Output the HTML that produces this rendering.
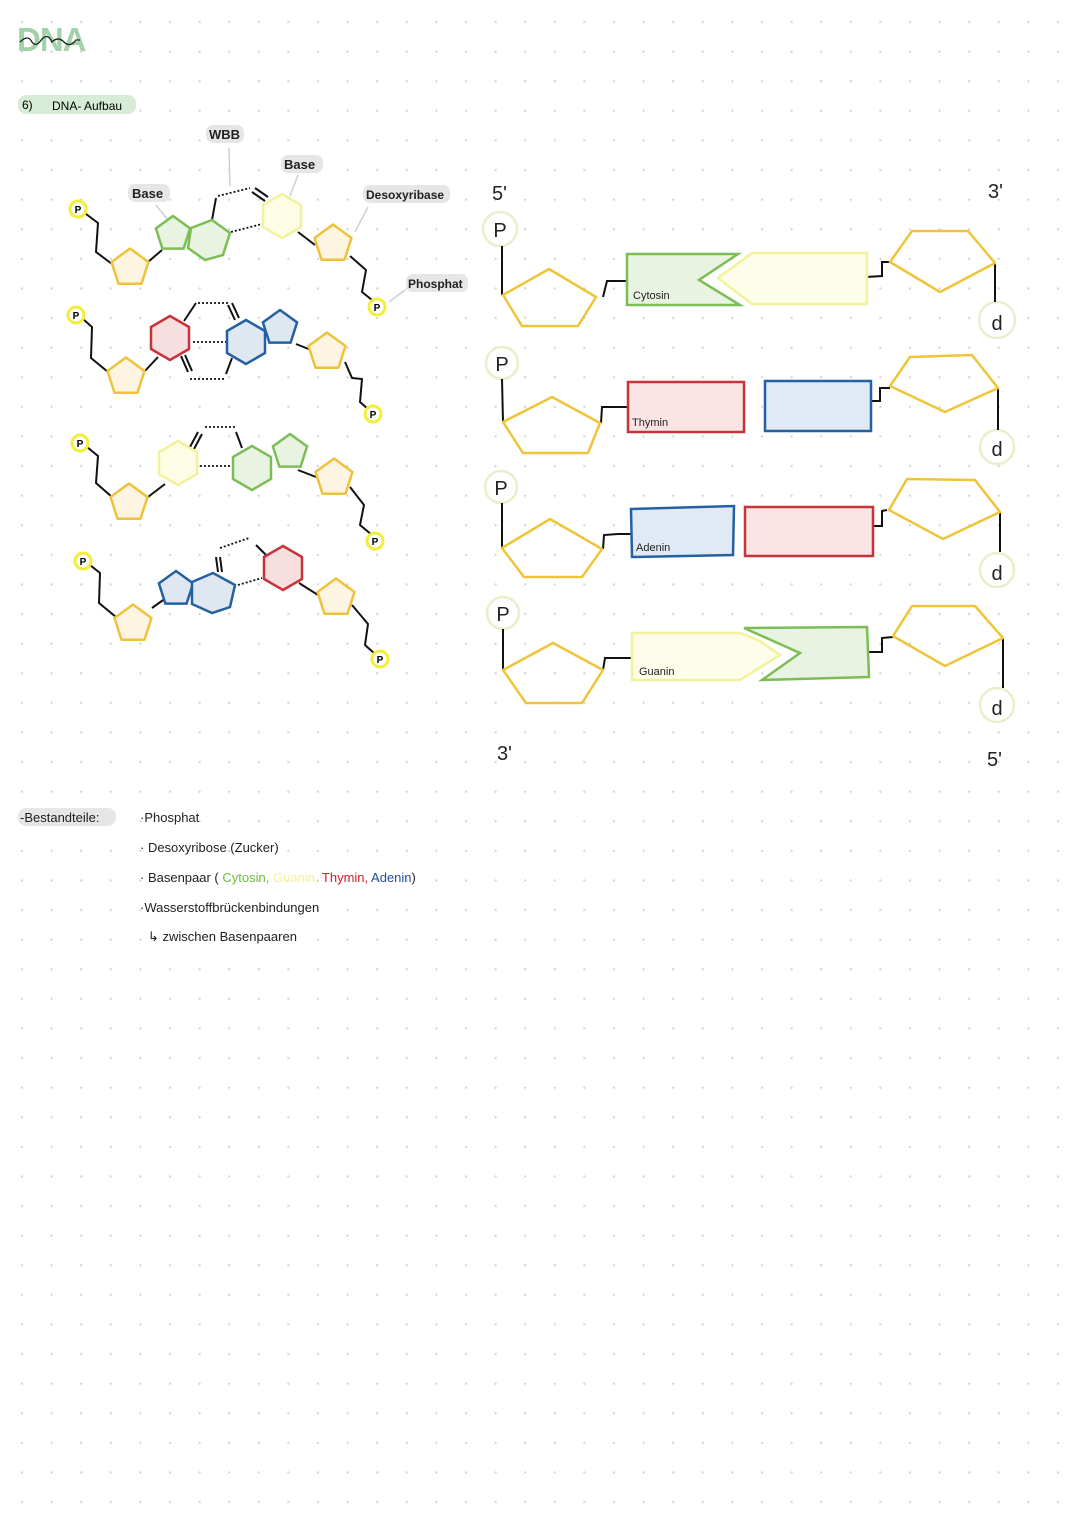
<!DOCTYPE html>
<html><head><meta charset="utf-8"><style>
html,body{margin:0;padding:0;background:#fff;}
svg{display:block;}
text{font-family:"Liberation Sans",sans-serif;}
</style></head><body>
<svg width="1080" height="1525" viewBox="0 0 1080 1525" xmlns="http://www.w3.org/2000/svg">
<defs>
<pattern id="g" x="7" y="7" width="29.6" height="29.6" patternUnits="userSpaceOnUse">
<circle cx="15" cy="15" r="1.1" fill="#cfcfcf"/></pattern>
<polygon id="sug" points="0,-19.5 18.5,-6 11.5,15.8 -11.5,15.8 -18.5,-6" fill="#fdf4e2" stroke="#efc23c" stroke-width="2.5" stroke-linejoin="round"/>
<polygon id="hexr" points="0,-22 19,-11 19,11 0,22 -19,11 -19,-11" fill="#f7dfe0" stroke="#c8333a" stroke-width="2.5"/>
<polygon id="hexb" points="0,-22 19,-11 19,11 0,22 -19,11 -19,-11" fill="#dfe7f1" stroke="#2560a3" stroke-width="2.5"/>
<polygon id="hexg" points="0,-22 19,-11 19,11 0,22 -19,11 -19,-11" fill="#e9f3e2" stroke="#7dbd55" stroke-width="2.5"/>
<polygon id="hexy" points="0,-22 19,-11 19,11 0,22 -19,11 -19,-11" fill="#fdfde6" stroke="#f2f29c" stroke-width="2.5"/>
<polygon id="penb" points="0,-18 17.1,-5.6 10.6,14.6 -10.6,14.6 -17.1,-5.6" fill="#dfe7f1" stroke="#2560a3" stroke-width="2.5"/>
<polygon id="peng" points="0,-18 17.1,-5.6 10.6,14.6 -10.6,14.6 -17.1,-5.6" fill="#e9f3e2" stroke="#7dbd55" stroke-width="2.5"/>
<g id="pl"><circle r="8" fill="#fff" stroke="#f2ee3a" stroke-width="3"/><text x="0" y="4" font-size="10" font-weight="bold" text-anchor="middle">P</text></g>
</defs>
<rect width="1080" height="1525" fill="url(#g)"/>

<!-- title -->
<text x="17" y="51" font-size="33" font-weight="bold" fill="#92cb9c" opacity="0.85" letter-spacing="-1">DNA</text>
<path d="M20 42 q8 -8 12 0 q4 6 10 -3 q6 -6 10 3 q6 -6 12 0 q6 6 12 -2 l4 0" stroke="#222" stroke-width="1.3" fill="none"/>
<rect x="18" y="95" width="118" height="19" rx="8" fill="#d7ecd7"/>
<text x="22" y="109" font-size="12">6)</text>
<text x="52" y="110" font-size="12">DNA- Aufbau</text>

<!-- left labels -->
<g font-size="13" font-weight="bold" fill="#222">
<rect x="128" y="184" width="42" height="18" rx="7" fill="#e6e6e6"/><text x="132" y="198">Base</text>
<rect x="206" y="125" width="38" height="18" rx="7" fill="#e6e6e6"/><text x="209" y="139">WBB</text>
<rect x="281" y="155" width="42" height="18" rx="7" fill="#e6e6e6"/><text x="284" y="169">Base</text>
<rect x="363" y="185" width="87" height="18" rx="7" fill="#e6e6e6"/><text x="366" y="199" font-size="12">Desoxyribase</text>
<rect x="406" y="274" width="62" height="18" rx="7" fill="#e6e6e6"/><text x="408" y="288" font-size="12">Phosphat</text>
</g>
<g stroke="#cfcfcf" stroke-width="1.5">
<line x1="156" y1="205" x2="168" y2="220"/><line x1="229" y1="148" x2="230" y2="186"/>
<line x1="298" y1="175" x2="290" y2="196"/><line x1="368" y1="207" x2="355" y2="232"/>
<line x1="405" y1="290" x2="389" y2="302"/>
</g>

<g stroke="#111" stroke-width="2" fill="none" stroke-linejoin="round">
<polyline points="86,214 98,223 96,252 112,264"/>
<polyline points="148,262 162,250"/>
<polyline points="212,220 216,198"/>
<polyline points="298,232 315,245"/>
<polyline points="350,256 366,270 362,292 372,300"/>
<line x1="252" y1="192" x2="265" y2="201"/><line x1="255" y1="188" x2="268" y2="197"/>
<polyline points="83,319 92,327 91,358 108,372"/>
<polyline points="144,372 158,357"/>
<polyline points="184,321 196,303"/>
<polyline points="232,358 226,374"/>
<polyline points="296,344 311,350"/>
<polyline points="345,362 352,378 362,379 360,402 368,409"/>
<line x1="181" y1="356" x2="188" y2="372"/><line x1="185" y1="355" x2="192" y2="371"/>
<line x1="228" y1="305" x2="235" y2="320"/><line x1="232" y1="303" x2="239" y2="318"/>
<polyline points="87,447 98,456 96,483 112,497"/>
<polyline points="148,497 165,484"/>
<polyline points="236,432 242,448"/>
<polyline points="298,470 316,477"/>
<polyline points="350,487 364,505 360,525 372,535"/>
<line x1="190" y1="447" x2="198" y2="432"/><line x1="194" y1="449" x2="202" y2="434"/>
<polyline points="90,565 100,573 99,603 116,617"/>
<polyline points="152,608 166,598"/>
<polyline points="256,545 266,555"/>
<polyline points="299,583 318,595"/>
<polyline points="352,605 368,624 365,645 375,654"/>
<line x1="216" y1="557" x2="218" y2="572"/><line x1="220" y1="557" x2="222" y2="572"/>
</g>
<g stroke="#111" stroke-width="1.8" stroke-dasharray="2,2" fill="none">
<line x1="218" y1="196" x2="250" y2="188"/><line x1="231" y1="232" x2="262" y2="224"/>
<line x1="198" y1="303" x2="228" y2="303"/><line x1="193" y1="342" x2="226" y2="342"/><line x1="190" y1="379" x2="224" y2="379"/>
<line x1="205" y1="427" x2="237" y2="427"/><line x1="200" y1="466" x2="231" y2="466"/>
<line x1="220" y1="548" x2="249" y2="538"/><line x1="238" y1="585" x2="262" y2="578"/>
</g>

<use href="#sug" x="130" y="268"/>
<use href="#peng" x="173" y="234"/>
<polygon points="191,228 212,220 230,233 223,255 205,260 188,248" fill="#e9f3e2" stroke="#7dbd55" stroke-width="2.5"/>
<use href="#hexy" x="282" y="216"/>
<use href="#sug" x="333" y="244"/>
<use href="#pl" x="78" y="209"/><use href="#pl" x="377" y="307"/>
<use href="#sug" x="126" y="377"/>
<use href="#hexr" x="170" y="338"/>
<use href="#hexb" x="246" y="342"/>
<use href="#penb" x="280" y="328"/>
<use href="#sug" x="327" y="352"/>
<use href="#pl" x="76" y="315"/><use href="#pl" x="373" y="414"/>
<use href="#sug" x="129" y="503"/>
<use href="#hexy" x="178" y="463"/>
<use href="#hexg" x="252" y="468"/>
<use href="#peng" x="290" y="452"/>
<use href="#sug" x="334" y="478"/>
<use href="#pl" x="80" y="443"/><use href="#pl" x="375" y="541"/>
<use href="#sug" x="133" y="624"/>
<use href="#penb" x="176" y="589"/>
<polygon points="192,582 213,573 235,585 230,607 212,613 192,604" fill="#dfe7f1" stroke="#2560a3" stroke-width="2.5"/>
<use href="#hexr" x="283" y="568"/>
<use href="#sug" x="336" y="598"/>
<use href="#pl" x="83" y="561"/><use href="#pl" x="380" y="659"/>

<!-- right diagram -->
<g font-size="20" fill="#222">
<text x="492" y="200">5'</text><text x="988" y="198">3'</text>
<text x="497" y="760">3'</text><text x="987" y="766">5'</text>
</g>
<g fill="#fff" stroke="#e6f0cc" stroke-width="2.5">
<circle cx="500" cy="229" r="17"/><circle cx="502" cy="363" r="16"/><circle cx="501" cy="487" r="16"/><circle cx="503" cy="613" r="16"/>
<circle cx="997" cy="320" r="18"/><circle cx="997" cy="447" r="17"/><circle cx="997" cy="570" r="17"/><circle cx="997" cy="705" r="17"/>
</g>
<g font-size="20" fill="#222" text-anchor="middle">
<text x="500" y="237">P</text><text x="502" y="371">P</text><text x="501" y="495">P</text><text x="503" y="621">P</text>
<text x="997" y="330">d</text><text x="997" y="456">d</text><text x="997" y="580">d</text><text x="997" y="715">d</text>
</g>
<g stroke="#111" stroke-width="2" fill="none">
<polyline points="502,246 502,295"/><polyline points="603,297 607,281 627,281"/>
<polyline points="866,277 882,276 882,262 890,262"/><polyline points="995,264 995,302"/>
<polyline points="502,379 503,422"/><polyline points="601,423 602,407 619,407 628,407"/>
<polyline points="871,401 880,401 880,388 890,388"/><polyline points="998,389 998,430"/>
<polyline points="502,503 502,548"/><polyline points="603,549 604,535 618,534 631,534"/>
<polyline points="873,526 882,526 882,511 887,510"/><polyline points="1000,512 1000,552"/>
<polyline points="503,629 503,670"/><polyline points="603,670 605,658 622,658 632,658"/>
<polyline points="868,652 882,652 882,638 893,637"/><polyline points="1003,639 1003,688"/>
</g>
<g fill="none" stroke="#f0c43a" stroke-width="2.5" stroke-linejoin="round">
<polygon points="503,295 549,269 596,297 578,326 522,326"/>
<polygon points="890,262 912,231 968,231 995,263 940,292"/>
<polygon points="503,422 552,397 600,423 588,453 523,453"/>
<polygon points="890,386 910,357 972,355 998,388 945,412"/>
<polygon points="502,548 550,519 602,549 582,577 524,577"/>
<polygon points="889,510 907,479 975,480 1000,512 943,539"/>
<polygon points="503,670 553,643 603,670 582,703 526,703"/>
<polygon points="893,636 912,606 975,606 1003,638 945,666"/>
</g>
<polygon points="627,254 738,254 699,280 740,305 627,305" fill="#e9f3e2" stroke="#7dbd55" stroke-width="2.5"/>
<polygon points="718,278 752,253 867,253 867,304 752,304" fill="#fdfde9" stroke="#f2f29c" stroke-width="2.5"/>
<rect x="628" y="382" width="116" height="50" fill="#fae4e4" stroke="#c8333a" stroke-width="2.5"/>
<rect x="765" y="381" width="106" height="50" fill="#e1e9f4" stroke="#2560a3" stroke-width="2.5"/>
<polygon points="631,509 734,506 733,555 632,557" fill="#e1e9f4" stroke="#2560a3" stroke-width="2.5"/>
<rect x="745" y="507" width="128" height="49" fill="#fae4e4" stroke="#c8333a" stroke-width="2.5"/>
<polygon points="632,633 740,633 760,641 780,655 740,680 632,680" fill="#fdfde9" stroke="#f2f29c" stroke-width="2.5"/>
<polygon points="744,628 867,627 869,677 762,680 800,653" fill="#e9f3e2" stroke="#7dbd55" stroke-width="2.5"/>
<g font-size="11" fill="#222">
<text x="633" y="299">Cytosin</text><text x="632" y="426">Thymin</text>
<text x="636" y="551">Adenin</text><text x="639" y="675">Guanin</text>
</g>

<rect x="18" y="808" width="98" height="18" rx="8" fill="#e6e6e6"/>
<g font-size="13" fill="#222">
<text x="20" y="822">-Bestandteile:</text>
<text x="140" y="822">·Phosphat</text>
<text x="140" y="852">· Desoxyribose  (Zucker)</text>
<text x="140" y="882">· Basenpaar  ( <tspan fill="#6cbf3f">Cytosin,</tspan> <tspan fill="#f2ef9c">Guanin,</tspan> <tspan fill="#c8222a">Thymin,</tspan> <tspan fill="#1f4f9c">Adenin</tspan>)</text>
<text x="140" y="912">·Wasserstoffbrückenbindungen</text>
<text x="148" y="941">↳ zwischen  Basenpaaren</text>
</g>
</svg>
</body></html>
